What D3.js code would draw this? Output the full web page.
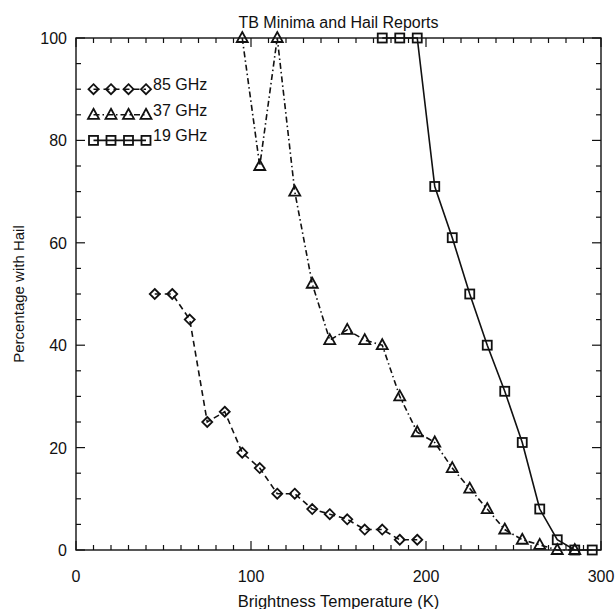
<!DOCTYPE html>
<html><head><meta charset="utf-8">
<script src="https://cdn.jsdelivr.net/npm/d3@7"></script>
<style>html,body{margin:0;padding:0;background:#fff;}svg{display:block;font-family:"Liberation Sans",Arial,sans-serif;}</style>
</head><body><svg id="c" width="616" height="609"></svg>
<script>
const title = "TB Minima and Hail Reports";
const xLabel = "Brightness Temperature (K)";
const yLabel = "Percentage with Hail";
const xTicks = [0, 100, 200, 300];
const yTicks = [0, 20, 40, 60, 80, 100];

const t85 = [45, 55, 65, 75, 85, 95, 105, 115, 125, 135, 145, 155, 165, 175, 185, 195];
const p85 = [50, 50, 45, 25, 27, 19, 16, 11, 11, 8, 7, 6, 4, 4, 2, 2];
const t37 = [95, 105, 115, 125, 135, 145, 155, 165, 175, 185, 195, 205, 215, 225, 235, 245, 255, 265, 275, 285];
const p37 = [100, 75, 100, 70, 52, 41, 43, 41, 40, 30, 23, 21, 16, 12, 8, 4, 2, 1, 0, 0];
const t19 = [175, 185, 195, 205, 215, 225, 235, 245, 255, 265, 275, 285, 295];
const p19 = [100, 100, 100, 71, 61, 50, 40, 31, 21, 8, 2, 0, 0];

const seriesNames = ["85 GHz", "37 GHz", "19 GHz"];
const legendY = [90, 85, 80];

const svg = d3.select("#c");
const L = 76, R = 601, T = 38, B = 550;
const x = d3.scaleLinear().domain([0, 300]).range([L, R]);
const y = d3.scaleLinear().domain([0, 100]).range([B, T]);

const ink = "#111";
svg.append("rect").attr("x", L).attr("y", T).attr("width", R - L).attr("height", B - T)
  .attr("fill", "none").attr("stroke", ink).attr("stroke-width", 1.4);

const xMinor = d3.range(0, 301, 10);
const yMinor = d3.range(0, 101, 5);
const g = svg.append("g").attr("stroke", ink).attr("stroke-width", 1.2);
xMinor.forEach(v => {
  const len = (v % 100 === 0) ? 9 : 5;
  g.append("line").attr("x1", x(v)).attr("x2", x(v)).attr("y1", B).attr("y2", B - len);
  g.append("line").attr("x1", x(v)).attr("x2", x(v)).attr("y1", T).attr("y2", T + len);
});
yMinor.forEach(v => {
  const len = (v % 20 === 0) ? 9 : 5;
  g.append("line").attr("y1", y(v)).attr("y2", y(v)).attr("x1", L).attr("x2", L + len);
  g.append("line").attr("y1", y(v)).attr("y2", y(v)).attr("x1", R).attr("x2", R - len);
});

svg.append("g").selectAll("text").data(xTicks).join("text")
  .attr("x", d => x(d)).attr("y", 582).attr("text-anchor", "middle")
  .attr("font-size", 16).attr("fill", ink).text(d => d);
svg.append("g").selectAll("text").data(yTicks).join("text")
  .attr("x", 67).attr("y", d => y(d) + 6).attr("text-anchor", "end")
  .attr("font-size", 16).attr("fill", ink).text(d => d);

svg.append("text").attr("x", (L + R) / 2).attr("y", 28).attr("text-anchor", "middle")
  .attr("font-size", 16).attr("fill", ink).text(title);
svg.append("text").attr("x", (L + R) / 2).attr("y", 607).attr("text-anchor", "middle")
  .attr("font-size", 16.5).attr("fill", ink).text(xLabel);
svg.append("text").attr("transform", `translate(24,${(T + B) / 2}) rotate(-90)`)
  .attr("text-anchor", "middle").attr("font-size", 15).attr("fill", ink).text(yLabel);

const dashes = ["6,4", "6,3,1.5,3", null];
const symbols = ["diamond", "triangle", "square"];
function drawSymbol(sel, type, cx, cy) {
  if (type === "diamond") {
    sel.append("path").attr("d", `M${cx},${cy-5}L${cx+5},${cy}L${cx},${cy+5}L${cx-5},${cy}Z`);
  } else if (type === "triangle") {
    sel.append("path").attr("d", `M${cx},${cy-6}L${cx+5.5},${cy+4}L${cx-5.5},${cy+4}Z`);
  } else {
    sel.append("rect").attr("x", cx - 4.5).attr("y", cy - 4.5).attr("width", 9).attr("height", 9);
  }
}
const data = [[t85, p85], [t37, p37], [t19, p19]];
const line = d3.line().x(d => x(d[0])).y(d => y(d[1]));
data.forEach(([ts, ps], i) => {
  const pts = ts.map((t, k) => [t, ps[k]]);
  svg.append("path").attr("d", line(pts)).attr("fill", "none").attr("stroke", ink)
    .attr("stroke-width", 1.6).attr("stroke-dasharray", dashes[i]);
  const sg = svg.append("g").attr("fill", "none").attr("stroke", ink).attr("stroke-width", 1.8);
  pts.forEach(p => drawSymbol(sg, symbols[i], x(p[0]), y(p[1])));
});

const legX = [10, 20, 30, 40];
seriesNames.forEach((name, i) => {
  const ly = y(legendY[i]);
  const pts = legX.map(v => [v, legendY[i]]);
  svg.append("path").attr("d", line(pts)).attr("fill", "none").attr("stroke", ink)
    .attr("stroke-width", 1.6).attr("stroke-dasharray", dashes[i]);
  const sg = svg.append("g").attr("fill", "none").attr("stroke", ink).attr("stroke-width", 1.8);
  pts.forEach(p => drawSymbol(sg, symbols[i], x(p[0]), y(p[1])));
  svg.append("text").attr("x", x(44)).attr("y", ly + 1).attr("font-size", 16).attr("fill", ink).text(name);
});
</script></body></html>
